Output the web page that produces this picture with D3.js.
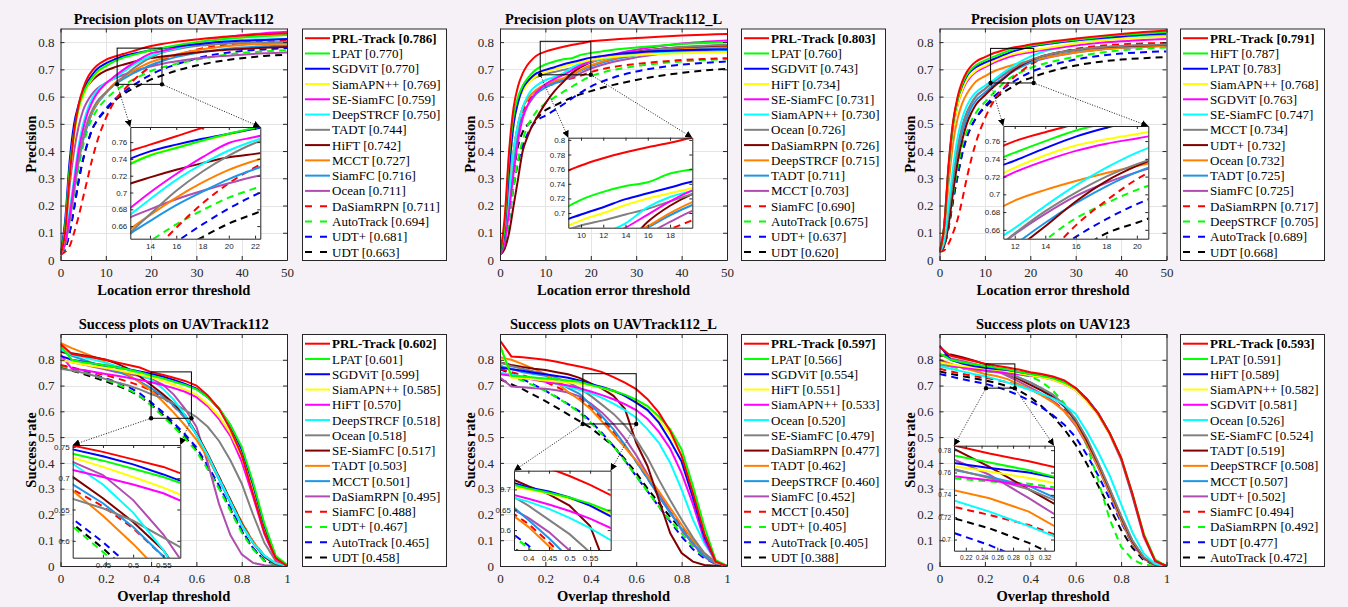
<!DOCTYPE html>
<html><head><meta charset="utf-8">
<script src="https://cdn.jsdelivr.net/npm/d3@7"></script>
<style>
body{margin:0;background:#f5f1f6;}
svg{display:block;}
</style></head>
<body><svg id="c" width="1348" height="607"></svg>
<script>
// ---------- shared ----------
const precX = [0,1,2,3,4,5,6,7,8,10,12,14,16,18,20,22,25,30,35,40,45,50];
const succX = [0,0.05,0.1,0.15,0.2,0.25,0.3,0.35,0.4,0.45,0.5,0.55,0.6,0.65,0.7,0.75,0.8,0.85,0.9,0.95,1];
const precXTicks = [0,10,20,30,40,50];
const precYTicks = [0,0.1,0.2,0.3,0.4,0.5,0.6,0.7,0.8];
const succXTicks = [0,0.2,0.4,0.6,0.8,1];
const succYTicks = [0,0.1,0.2,0.3,0.4,0.5,0.6,0.7,0.8];
const lineColors = ['#ff0000','#00ff00','#0000ff','#ffff00','#ff00ff','#00ffff','#808080','#800000','#ff8000','#1e96e6','#b04db0','#ff0000','#00ff00','#0000ff','#000000'];
const lineDashed = [false,false,false,false,false,false,false,false,false,false,false,true,true,true,true];

// ---------- Panel 1: Precision UAVTrack112 ----------
const p1Names = ['PRL-Track','LPAT','SGDViT','SiamAPN++','SE-SiamFC','DeepSTRCF','TADT','HiFT','MCCT','SiamFC','Ocean','DaSiamRPN','AutoTrack','UDT+','UDT'];
const p1Scores = ['0.786','0.770','0.770','0.769','0.759','0.750','0.744','0.742','0.727','0.716','0.711','0.711','0.694','0.681','0.663'];
const p1Curves = [
 [0.02,0.10,0.30,0.47,0.57,0.63,0.67,0.695,0.713,0.735,0.747,0.757,0.767,0.777,0.786,0.792,0.800,0.810,0.818,0.824,0.829,0.833],
 [0.02,0.12,0.33,0.47,0.56,0.61,0.645,0.67,0.69,0.712,0.730,0.744,0.753,0.762,0.770,0.777,0.787,0.800,0.810,0.817,0.822,0.826],
 [0.02,0.14,0.36,0.50,0.57,0.62,0.655,0.68,0.70,0.722,0.737,0.749,0.757,0.764,0.770,0.776,0.783,0.792,0.800,0.805,0.808,0.811],
 [0.02,0.10,0.30,0.45,0.55,0.60,0.64,0.665,0.685,0.712,0.731,0.745,0.754,0.762,0.769,0.776,0.786,0.800,0.810,0.817,0.822,0.826],
 [0.02,0.06,0.16,0.28,0.40,0.48,0.54,0.58,0.61,0.648,0.675,0.700,0.722,0.742,0.759,0.766,0.778,0.798,0.814,0.825,0.833,0.838],
 [0.02,0.07,0.18,0.30,0.42,0.50,0.555,0.595,0.62,0.650,0.668,0.692,0.715,0.734,0.750,0.762,0.775,0.792,0.802,0.808,0.810,0.812],
 [0.02,0.06,0.15,0.26,0.37,0.45,0.51,0.55,0.58,0.615,0.645,0.674,0.702,0.725,0.744,0.759,0.772,0.786,0.793,0.797,0.799,0.800],
 [0.02,0.12,0.33,0.48,0.56,0.61,0.64,0.66,0.675,0.695,0.708,0.718,0.727,0.735,0.742,0.746,0.752,0.762,0.770,0.775,0.779,0.782],
 [0.02,0.06,0.15,0.26,0.37,0.45,0.505,0.545,0.575,0.615,0.650,0.673,0.694,0.712,0.727,0.738,0.752,0.770,0.782,0.789,0.793,0.795],
 [0.02,0.06,0.14,0.25,0.36,0.44,0.495,0.54,0.57,0.612,0.645,0.666,0.685,0.701,0.716,0.728,0.743,0.760,0.772,0.780,0.785,0.788],
 [0.02,0.10,0.27,0.40,0.49,0.55,0.585,0.61,0.628,0.650,0.667,0.680,0.692,0.702,0.711,0.719,0.728,0.740,0.748,0.754,0.759,0.762],
 [0.02,0.03,0.05,0.10,0.16,0.23,0.30,0.37,0.43,0.52,0.585,0.625,0.658,0.687,0.711,0.730,0.748,0.772,0.787,0.797,0.802,0.805],
 [0.02,0.05,0.13,0.24,0.34,0.42,0.48,0.52,0.55,0.59,0.62,0.642,0.662,0.679,0.694,0.705,0.718,0.735,0.750,0.760,0.766,0.770],
 [0.02,0.04,0.10,0.19,0.29,0.37,0.43,0.48,0.51,0.555,0.59,0.617,0.641,0.662,0.681,0.697,0.715,0.740,0.757,0.767,0.773,0.778],
 [0.02,0.04,0.10,0.19,0.29,0.37,0.43,0.48,0.51,0.55,0.585,0.61,0.63,0.647,0.663,0.675,0.692,0.714,0.730,0.741,0.749,0.754]
];

// ---------- Panel 2: Precision UAVTrack112_L ----------
const p2Names = ['PRL-Track','LPAT','SGDViT','HiFT','SE-SiamFC','SiamAPN++','Ocean','DaSiamRPN','DeepSTRCF','TADT','MCCT','SiamFC','AutoTrack','UDT+','UDT'];
const p2Scores = ['0.803','0.760','0.743','0.734','0.731','0.730','0.726','0.726','0.715','0.711','0.703','0.690','0.675','0.637','0.620'];
const p2Curves = [
 [0.02,0.15,0.40,0.56,0.64,0.685,0.715,0.735,0.750,0.765,0.775,0.783,0.790,0.796,0.803,0.806,0.810,0.815,0.820,0.824,0.827,0.830],
 [0.02,0.12,0.38,0.53,0.60,0.64,0.665,0.685,0.700,0.718,0.729,0.737,0.742,0.754,0.760,0.765,0.772,0.780,0.787,0.793,0.797,0.800],
 [0.02,0.10,0.33,0.50,0.58,0.63,0.655,0.672,0.685,0.698,0.708,0.719,0.727,0.735,0.743,0.748,0.755,0.762,0.767,0.770,0.772,0.773],
 [0.02,0.10,0.33,0.50,0.58,0.62,0.645,0.662,0.675,0.690,0.700,0.711,0.720,0.727,0.734,0.740,0.746,0.752,0.756,0.759,0.761,0.763],
 [0.02,0.06,0.18,0.32,0.44,0.52,0.565,0.595,0.615,0.645,0.665,0.680,0.698,0.716,0.731,0.741,0.755,0.772,0.785,0.795,0.801,0.806],
 [0.02,0.08,0.24,0.40,0.50,0.56,0.60,0.625,0.640,0.660,0.672,0.686,0.708,0.722,0.730,0.737,0.745,0.753,0.758,0.762,0.765,0.767],
 [0.02,0.10,0.32,0.50,0.59,0.63,0.65,0.663,0.672,0.683,0.690,0.698,0.706,0.716,0.726,0.735,0.748,0.763,0.774,0.782,0.787,0.790],
 [0.02,0.04,0.10,0.20,0.30,0.40,0.45,0.49,0.52,0.575,0.62,0.655,0.688,0.710,0.726,0.737,0.750,0.765,0.775,0.781,0.785,0.788],
 [0.02,0.08,0.24,0.40,0.50,0.56,0.59,0.61,0.625,0.645,0.658,0.668,0.682,0.700,0.715,0.726,0.740,0.757,0.768,0.776,0.781,0.784],
 [0.02,0.07,0.22,0.37,0.47,0.53,0.565,0.59,0.61,0.633,0.648,0.662,0.680,0.697,0.711,0.722,0.736,0.752,0.763,0.771,0.776,0.779],
 [0.02,0.08,0.24,0.40,0.50,0.56,0.59,0.61,0.622,0.640,0.652,0.662,0.672,0.688,0.703,0.714,0.728,0.744,0.756,0.765,0.771,0.775],
 [0.02,0.07,0.22,0.38,0.48,0.54,0.575,0.60,0.615,0.635,0.648,0.659,0.668,0.678,0.690,0.699,0.709,0.720,0.728,0.734,0.738,0.741],
 [0.02,0.05,0.15,0.27,0.37,0.44,0.49,0.52,0.545,0.575,0.597,0.618,0.638,0.658,0.675,0.686,0.698,0.712,0.722,0.729,0.734,0.737],
 [0.02,0.05,0.15,0.27,0.36,0.42,0.46,0.49,0.51,0.53,0.55,0.572,0.595,0.617,0.637,0.652,0.670,0.692,0.707,0.717,0.724,0.729],
 [0.02,0.06,0.18,0.32,0.42,0.47,0.495,0.51,0.52,0.55,0.567,0.583,0.598,0.610,0.620,0.630,0.643,0.661,0.676,0.687,0.696,0.702]
];

// ---------- Panel 3: Precision UAV123 ----------
const p3Names = ['PRL-Track','HiFT','LPAT','SiamAPN++','SGDViT','SE-SiamFC','MCCT','UDT+','Ocean','TADT','SiamFC','DaSiamRPN','DeepSTRCF','AutoTrack','UDT'];
const p3Scores = ['0.791','0.787','0.783','0.768','0.763','0.747','0.734','0.732','0.732','0.725','0.725','0.717','0.705','0.689','0.668'];
const p3Curves = [
 [0.03,0.12,0.35,0.51,0.60,0.655,0.69,0.713,0.728,0.745,0.760,0.770,0.779,0.785,0.791,0.796,0.803,0.813,0.822,0.830,0.837,0.843],
 [0.03,0.12,0.34,0.50,0.59,0.645,0.68,0.70,0.715,0.733,0.747,0.760,0.772,0.780,0.787,0.792,0.799,0.809,0.818,0.826,0.832,0.837],
 [0.03,0.12,0.34,0.50,0.59,0.64,0.675,0.695,0.708,0.725,0.738,0.752,0.765,0.775,0.783,0.789,0.796,0.806,0.814,0.821,0.827,0.831],
 [0.03,0.11,0.32,0.48,0.57,0.625,0.66,0.68,0.695,0.713,0.730,0.744,0.755,0.762,0.768,0.774,0.782,0.795,0.805,0.812,0.817,0.820],
 [0.03,0.11,0.32,0.48,0.57,0.62,0.655,0.675,0.69,0.708,0.725,0.738,0.749,0.757,0.763,0.769,0.776,0.788,0.797,0.803,0.808,0.811],
 [0.03,0.07,0.20,0.34,0.45,0.52,0.565,0.595,0.615,0.640,0.662,0.687,0.710,0.730,0.747,0.760,0.775,0.795,0.807,0.815,0.820,0.823],
 [0.03,0.06,0.17,0.30,0.41,0.49,0.54,0.575,0.60,0.628,0.656,0.681,0.702,0.720,0.734,0.745,0.758,0.772,0.781,0.786,0.789,0.791],
 [0.03,0.05,0.13,0.25,0.36,0.44,0.50,0.54,0.57,0.605,0.637,0.664,0.692,0.715,0.732,0.745,0.758,0.772,0.780,0.785,0.788,0.790],
 [0.03,0.10,0.28,0.43,0.52,0.575,0.61,0.635,0.655,0.675,0.693,0.705,0.715,0.724,0.732,0.739,0.748,0.762,0.772,0.779,0.784,0.787],
 [0.03,0.06,0.16,0.28,0.39,0.47,0.52,0.56,0.585,0.615,0.643,0.668,0.690,0.709,0.725,0.737,0.750,0.764,0.773,0.779,0.783,0.786],
 [0.03,0.06,0.17,0.30,0.41,0.49,0.54,0.575,0.60,0.628,0.655,0.678,0.698,0.713,0.725,0.735,0.747,0.762,0.772,0.779,0.783,0.786],
 [0.03,0.035,0.06,0.10,0.15,0.22,0.30,0.37,0.43,0.52,0.585,0.628,0.665,0.693,0.717,0.735,0.755,0.775,0.786,0.792,0.795,0.797],
 [0.03,0.05,0.13,0.24,0.34,0.42,0.47,0.51,0.54,0.58,0.615,0.648,0.673,0.690,0.705,0.716,0.729,0.747,0.760,0.770,0.776,0.780],
 [0.03,0.05,0.12,0.22,0.31,0.39,0.45,0.49,0.52,0.565,0.600,0.628,0.652,0.672,0.689,0.702,0.717,0.736,0.749,0.758,0.763,0.766],
 [0.03,0.05,0.12,0.22,0.31,0.39,0.45,0.49,0.52,0.56,0.59,0.615,0.635,0.656,0.668,0.680,0.695,0.714,0.727,0.736,0.741,0.745]
];

// ---------- Panel 4: Success UAVTrack112 ----------
const p4Names = ['PRL-Track','LPAT','SGDViT','SiamAPN++','HiFT','DeepSTRCF','Ocean','SE-SiamFC','TADT','MCCT','DaSiamRPN','SiamFC','UDT+','AutoTrack','UDT'];
const p4Scores = ['0.602','0.601','0.599','0.585','0.570','0.518','0.518','0.517','0.503','0.501','0.495','0.488','0.467','0.465','0.458'];
const p4Curves = [
 [0.861,0.822,0.815,0.808,0.800,0.790,0.780,0.770,0.752,0.742,0.730,0.718,0.700,0.662,0.610,0.530,0.430,0.280,0.130,0.030,0],
 [0.855,0.800,0.790,0.785,0.778,0.770,0.762,0.752,0.739,0.728,0.715,0.702,0.685,0.655,0.612,0.548,0.462,0.325,0.165,0.040,0.005],
 [0.815,0.800,0.792,0.785,0.778,0.770,0.763,0.755,0.746,0.735,0.722,0.706,0.688,0.655,0.610,0.545,0.452,0.315,0.155,0.035,0.003],
 [0.800,0.790,0.782,0.775,0.768,0.760,0.752,0.743,0.733,0.718,0.702,0.685,0.665,0.628,0.580,0.515,0.425,0.290,0.140,0.030,0.002],
 [0.820,0.765,0.760,0.753,0.745,0.738,0.730,0.722,0.713,0.702,0.690,0.676,0.655,0.620,0.570,0.505,0.405,0.270,0.125,0.025,0.002],
 [0.840,0.820,0.810,0.800,0.788,0.775,0.760,0.743,0.723,0.690,0.645,0.585,0.510,0.430,0.340,0.250,0.160,0.090,0.040,0.010,0.001],
 [0.765,0.758,0.750,0.738,0.725,0.712,0.700,0.685,0.667,0.652,0.632,0.605,0.578,0.540,0.485,0.410,0.320,0.200,0.090,0.020,0],
 [0.830,0.825,0.818,0.810,0.800,0.785,0.765,0.735,0.702,0.668,0.630,0.585,0.515,0.435,0.345,0.255,0.165,0.090,0.035,0.008,0.001],
 [0.865,0.845,0.828,0.810,0.790,0.768,0.742,0.712,0.680,0.640,0.595,0.545,0.490,0.420,0.340,0.255,0.170,0.095,0.040,0.010,0.001],
 [0.835,0.815,0.800,0.785,0.770,0.755,0.738,0.715,0.690,0.660,0.622,0.575,0.510,0.425,0.335,0.245,0.160,0.090,0.038,0.009,0.001],
 [0.800,0.790,0.782,0.772,0.762,0.752,0.745,0.737,0.726,0.705,0.665,0.610,0.540,0.400,0.240,0.120,0.045,0.012,0.003,0.001,0],
 [0.780,0.770,0.760,0.750,0.740,0.728,0.715,0.700,0.682,0.655,0.620,0.575,0.510,0.430,0.345,0.255,0.170,0.095,0.040,0.010,0.001],
 [0.775,0.765,0.752,0.738,0.722,0.705,0.685,0.660,0.623,0.582,0.540,0.495,0.445,0.375,0.300,0.215,0.130,0.065,0.020,0.005,0],
 [0.778,0.768,0.756,0.742,0.728,0.712,0.695,0.670,0.635,0.598,0.555,0.510,0.460,0.390,0.312,0.225,0.140,0.070,0.022,0.005,0],
 [0.770,0.758,0.745,0.731,0.716,0.700,0.682,0.658,0.627,0.588,0.545,0.500,0.450,0.380,0.305,0.220,0.135,0.068,0.020,0.005,0]
];

// ---------- Panel 5: Success UAVTrack112_L ----------
const p5Names = ['PRL-Track','LPAT','SGDViT','HiFT','SiamAPN++','Ocean','SE-SiamFC','DaSiamRPN','TADT','DeepSTRCF','SiamFC','MCCT','UDT+','AutoTrack','UDT'];
const p5Scores = ['0.597','0.566','0.554','0.551','0.533','0.520','0.479','0.477','0.462','0.460','0.452','0.450','0.405','0.405','0.388'];
const p5Curves = [
 [0.874,0.813,0.810,0.805,0.800,0.792,0.783,0.774,0.764,0.752,0.733,0.711,0.686,0.647,0.595,0.523,0.426,0.283,0.127,0.017,0],
 [0.855,0.738,0.735,0.731,0.727,0.724,0.720,0.715,0.702,0.692,0.680,0.665,0.645,0.620,0.580,0.530,0.452,0.310,0.153,0.023,0],
 [0.770,0.763,0.757,0.750,0.744,0.737,0.730,0.720,0.705,0.695,0.680,0.660,0.634,0.605,0.556,0.485,0.405,0.265,0.115,0.018,0],
 [0.860,0.731,0.728,0.724,0.720,0.716,0.712,0.707,0.700,0.690,0.677,0.662,0.642,0.610,0.568,0.510,0.430,0.290,0.120,0.015,0],
 [0.744,0.738,0.730,0.722,0.715,0.708,0.700,0.690,0.677,0.663,0.647,0.628,0.605,0.570,0.520,0.455,0.360,0.240,0.100,0.015,0],
 [0.750,0.742,0.735,0.726,0.717,0.706,0.695,0.683,0.670,0.652,0.630,0.605,0.575,0.530,0.478,0.400,0.296,0.180,0.088,0.020,0],
 [0.790,0.775,0.765,0.755,0.745,0.730,0.712,0.690,0.660,0.625,0.590,0.545,0.490,0.420,0.335,0.255,0.180,0.110,0.050,0.012,0],
 [0.790,0.780,0.772,0.765,0.760,0.752,0.744,0.730,0.708,0.688,0.660,0.610,0.478,0.387,0.257,0.127,0.050,0.017,0.004,0.001,0],
 [0.810,0.800,0.783,0.765,0.744,0.712,0.675,0.645,0.608,0.560,0.510,0.460,0.410,0.350,0.290,0.225,0.160,0.100,0.050,0.015,0],
 [0.776,0.765,0.752,0.745,0.738,0.718,0.690,0.668,0.625,0.580,0.530,0.470,0.405,0.340,0.270,0.205,0.145,0.090,0.040,0.010,0],
 [0.731,0.696,0.693,0.690,0.688,0.682,0.673,0.658,0.630,0.595,0.550,0.495,0.430,0.355,0.283,0.210,0.140,0.085,0.036,0.008,0],
 [0.764,0.752,0.740,0.727,0.714,0.695,0.673,0.650,0.615,0.570,0.520,0.465,0.405,0.340,0.270,0.210,0.153,0.095,0.050,0.012,0],
 [0.783,0.735,0.718,0.700,0.679,0.654,0.627,0.595,0.556,0.510,0.465,0.408,0.348,0.290,0.230,0.175,0.127,0.075,0.036,0.010,0],
 [0.764,0.745,0.725,0.703,0.680,0.655,0.628,0.600,0.562,0.515,0.465,0.410,0.348,0.290,0.230,0.172,0.114,0.065,0.030,0.008,0],
 [0.725,0.705,0.686,0.663,0.640,0.614,0.588,0.562,0.536,0.500,0.465,0.415,0.361,0.300,0.244,0.190,0.140,0.090,0.043,0.012,0]
];

// ---------- Panel 6: Success UAV123 ----------
const p6Names = ['PRL-Track','LPAT','HiFT','SiamAPN++','SGDViT','Ocean','SE-SiamFC','TADT','DeepSTRCF','MCCT','UDT+','SiamFC','DaSiamRPN','UDT','AutoTrack'];
const p6Scores = ['0.593','0.591','0.589','0.582','0.581','0.526','0.524','0.519','0.508','0.507','0.502','0.494','0.492','0.477','0.472'];
const p6Curves = [
 [0.850,0.815,0.805,0.795,0.785,0.777,0.770,0.762,0.752,0.745,0.735,0.720,0.690,0.645,0.590,0.515,0.420,0.280,0.120,0.020,0],
 [0.825,0.800,0.790,0.783,0.776,0.769,0.762,0.753,0.745,0.738,0.728,0.712,0.688,0.645,0.590,0.515,0.420,0.280,0.125,0.025,0],
 [0.855,0.800,0.785,0.776,0.769,0.764,0.760,0.753,0.746,0.740,0.730,0.714,0.690,0.648,0.592,0.515,0.418,0.275,0.118,0.020,0],
 [0.790,0.782,0.776,0.771,0.766,0.761,0.755,0.748,0.740,0.732,0.722,0.706,0.682,0.638,0.585,0.510,0.415,0.272,0.115,0.020,0],
 [0.800,0.778,0.770,0.764,0.757,0.753,0.748,0.743,0.738,0.732,0.722,0.706,0.682,0.640,0.585,0.510,0.412,0.270,0.112,0.018,0],
 [0.775,0.765,0.755,0.745,0.736,0.725,0.712,0.698,0.683,0.668,0.650,0.625,0.590,0.520,0.440,0.350,0.240,0.130,0.048,0.008,0],
 [0.780,0.775,0.771,0.768,0.764,0.755,0.745,0.730,0.712,0.690,0.665,0.625,0.570,0.495,0.400,0.300,0.195,0.100,0.035,0.006,0],
 [0.815,0.820,0.810,0.797,0.783,0.765,0.745,0.725,0.703,0.680,0.655,0.620,0.565,0.485,0.395,0.295,0.190,0.095,0.032,0.005,0],
 [0.800,0.785,0.770,0.757,0.745,0.737,0.725,0.705,0.685,0.662,0.635,0.600,0.550,0.475,0.385,0.285,0.180,0.090,0.030,0.005,0],
 [0.790,0.780,0.773,0.768,0.763,0.756,0.748,0.732,0.712,0.688,0.660,0.618,0.560,0.480,0.385,0.285,0.180,0.090,0.030,0.005,0],
 [0.820,0.805,0.795,0.785,0.773,0.758,0.737,0.715,0.692,0.668,0.640,0.600,0.545,0.470,0.380,0.280,0.175,0.085,0.028,0.004,0],
 [0.765,0.755,0.745,0.737,0.730,0.722,0.713,0.700,0.685,0.665,0.640,0.605,0.555,0.480,0.390,0.290,0.185,0.090,0.030,0.005,0],
 [0.790,0.773,0.765,0.760,0.755,0.752,0.750,0.745,0.735,0.715,0.680,0.630,0.560,0.465,0.330,0.180,0.075,0.025,0.005,0.001,0],
 [0.745,0.735,0.725,0.716,0.707,0.695,0.680,0.662,0.640,0.615,0.585,0.548,0.500,0.430,0.350,0.260,0.170,0.085,0.028,0.004,0],
 [0.755,0.745,0.737,0.728,0.720,0.710,0.697,0.680,0.655,0.620,0.580,0.530,0.470,0.395,0.310,0.225,0.140,0.070,0.022,0.004,0]
];

// ---------- drawing ----------
const svg = d3.select('#c');
const SERIF = 'Liberation Serif, Times New Roman, serif';
const SANS = 'Liberation Sans, Arial, sans-serif';
const AX = '#262626';
const fmt = d => String(+(+d).toFixed(3));
const defs = svg.append('defs');
defs.append('marker').attr('id','arr').attr('viewBox','0 0 10 10').attr('refX',10).attr('refY',5)
  .attr('markerWidth',7).attr('markerHeight',7).attr('markerUnits','userSpaceOnUse').attr('orient','auto')
  .append('path').attr('d','M0,0 L10,5 L0,10 z').attr('fill','#000');

let clipId = 0;
function styleAxis(g, fs, family) {
  g.attr('font-size', fs).attr('font-family', family);
  g.select('.domain').attr('stroke', AX).attr('stroke-width', 1);
  g.selectAll('.tick line').attr('stroke', AX);
  g.selectAll('.tick text').attr('fill', AX);
}
function drawBox(g, x, y, xt, yt, L, R, T, B, tick, fs, family, padX, padY) {
  styleAxis(g.append('g').attr('transform', `translate(0,${B})`)
    .call(d3.axisBottom(x).tickValues(xt).tickSizeInner(-tick).tickSizeOuter(0).tickPadding(padX).tickFormat(fmt)), fs, family);
  styleAxis(g.append('g').attr('transform', `translate(0,${T})`)
    .call(d3.axisTop(x).tickValues(xt).tickSizeInner(-tick).tickSizeOuter(0).tickFormat(() => '')), fs, family);
  styleAxis(g.append('g').attr('transform', `translate(${L},0)`)
    .call(d3.axisLeft(y).tickValues(yt).tickSizeInner(-tick).tickSizeOuter(0).tickPadding(padY).tickFormat(fmt)), fs, family);
  styleAxis(g.append('g').attr('transform', `translate(${R},0)`)
    .call(d3.axisRight(y).tickValues(yt).tickSizeInner(-tick).tickSizeOuter(0).tickFormat(() => '')), fs, family);
}
function drawCurves(g, x, y, xs, curves, L, R, T, B, smooth) {
  const id = 'clip' + (clipId++);
  defs.append('clipPath').attr('id', id).append('rect').attr('x', L).attr('y', T).attr('width', R - L).attr('height', B - T);
  const line = d3.line().x((d, i) => x(xs[i])).y(d => y(d)).curve(smooth ? d3.curveMonotoneX : d3.curveLinear);
  const cg = g.append('g').attr('clip-path', `url(#${id})`);
  // draw lowest-ranked first so the best tracker ends on top
  for (let i = curves.length - 1; i >= 0; i--) {
    cg.append('path').attr('d', line(curves[i])).attr('fill', 'none')
      .attr('stroke', lineColors[i]).attr('stroke-width', 2)
      .attr('stroke-dasharray', lineDashed[i] ? '7,5' : null);
  }
}

function panel(o) {
  const g = svg.append('g');
  const x = d3.scaleLinear().domain(o.xd).range([o.L, o.R]);
  const y = d3.scaleLinear().domain(o.yd).range([o.B, o.T]);
  g.append('rect').attr('x', o.L).attr('y', o.T).attr('width', o.R - o.L).attr('height', o.B - o.T).attr('fill', '#fff');
  const gg = g.append('g').attr('stroke', '#e4e4e4').attr('stroke-width', 1);
  o.xt.forEach(t => gg.append('line').attr('x1', Math.round(x(t)) + 0.5).attr('x2', Math.round(x(t)) + 0.5).attr('y1', o.T).attr('y2', o.B));
  o.yt.forEach(t => gg.append('line').attr('y1', Math.round(y(t)) + 0.5).attr('y2', Math.round(y(t)) + 0.5).attr('x1', o.L).attr('x2', o.R));
  drawCurves(g, x, y, o.xs, o.curves, o.L, o.R, o.T, o.B, o.smooth);
  drawBox(g, x, y, o.xt, o.yt, o.L, o.R, o.T, o.B, 4, 13, SERIF, 8, 6);
  const lab = (sel) => sel.attr('font-family', SERIF).attr('font-weight', 'bold').attr('font-size', 14.5).attr('fill', '#000');
  lab(g.append('text').attr('x', (o.L + o.R) / 2).attr('y', o.T - 5).attr('text-anchor', 'middle')).text(o.title);
  lab(g.append('text').attr('x', (o.L + o.R) / 2).attr('y', o.B + 35).attr('text-anchor', 'middle')).text(o.xlab);
  lab(g.append('text').attr('transform', `translate(${o.L - 25},${(o.T + o.B) / 2}) rotate(-90)`).attr('text-anchor', 'middle')).text(o.ylab);

  const ins = o.inset;
  const rx0 = x(ins.xd[0]), rx1 = x(ins.xd[1]), ry0 = y(ins.yd[0]), ry1 = y(ins.yd[1]);
  g.append('rect').attr('x', rx0).attr('y', ry1).attr('width', rx1 - rx0).attr('height', ry0 - ry1)
    .attr('fill', 'none').attr('stroke', '#000').attr('stroke-width', 1);
  const ix = d3.scaleLinear().domain(ins.xd).range([ins.L, ins.R]);
  const iy = d3.scaleLinear().domain(ins.yd).range([ins.B, ins.T]);
  g.append('rect').attr('x', ins.L).attr('y', ins.T).attr('width', ins.R - ins.L).attr('height', ins.B - ins.T).attr('fill', '#fff');
  drawCurves(g, ix, iy, o.xs, o.curves, ins.L, ins.R, ins.T, ins.B, o.smooth);
  drawBox(g, ix, iy, ins.xt, ins.yt, ins.L, ins.R, ins.T, ins.B, 3, ins.fs || 8, SANS, 5, 3);
  [[rx0, ry0, ins.L, ins.T], [rx1, ry0, ins.R, ins.T]].forEach(([a, b, c, d]) => {
    g.append('line').attr('x1', a).attr('y1', b).attr('x2', c).attr('y2', d)
      .attr('stroke', '#000').attr('stroke-width', 0.9).attr('stroke-dasharray', '1,1.6').attr('marker-end', 'url(#arr)');
    g.append('circle').attr('cx', a).attr('cy', b).attr('r', 2.2).attr('fill', '#000');
  });

  const lg = svg.append('g');
  lg.append('rect').attr('x', o.lgL + 0.5).attr('y', o.T + 0.5).attr('width', 144).attr('height', o.B - o.T)
    .attr('fill', '#fff').attr('stroke', AX).attr('stroke-width', 1);
  o.names.forEach((n, i) => {
    const cy = o.T + 9.7 + i * 15.27;
    lg.append('line').attr('x1', o.lgL + 3).attr('x2', o.lgL + 28).attr('y1', cy).attr('y2', cy)
      .attr('stroke', lineColors[i]).attr('stroke-width', 2).attr('stroke-dasharray', lineDashed[i] ? '7,8' : null);
    lg.append('text').attr('x', o.lgL + 30).attr('y', cy).attr('dy', '0.35em')
      .attr('font-family', SERIF).attr('font-size', 13).attr('fill', '#000')
      .attr('font-weight', i === 0 ? 'bold' : 'normal').text(`${n} [${o.scores[i]}]`);
  });
}

const topT = 28.5, topB = 260, botT = 334, botB = 566;
const cols = [[60.5, 287, 302], [500, 727, 741], [939.5, 1166.5, 1180]];

panel({L: cols[0][0], R: cols[0][1], T: topT, B: topB, lgL: cols[0][2], xd: [0, 50], yd: [0, 0.85], xt: precXTicks, yt: precYTicks,
  xs: precX, curves: p1Curves, names: p1Names, scores: p1Scores, smooth: true,
  title: 'Precision plots on UAVTrack112', xlab: 'Location error threshold', ylab: 'Precision',
  inset: {L: 130.3, R: 260.3, T: 127, B: 238.7, xd: [12.5, 22.4], yd: [0.645, 0.778], xt: [14, 16, 18, 20, 22], yt: [0.66, 0.68, 0.7, 0.72, 0.74, 0.76]}});
panel({L: cols[1][0], R: cols[1][1], T: topT, B: topB, lgL: cols[1][2], xd: [0, 50], yd: [0, 0.85], xt: precXTicks, yt: precYTicks,
  xs: precX, curves: p2Curves, names: p2Names, scores: p2Scores, smooth: true,
  title: 'Precision plots on UAVTrack112_L', xlab: 'Location error threshold', ylab: 'Precision',
  inset: {L: 568.3, R: 692.3, T: 137.7, B: 227.7, xd: [8.86, 20], yd: [0.68, 0.803], xt: [10, 12, 14, 16, 18], yt: [0.7, 0.72, 0.74, 0.76, 0.78, 0.8]}});
panel({L: cols[2][0], R: cols[2][1], T: topT, B: topB, lgL: cols[2][2], xd: [0, 50], yd: [0, 0.85], xt: precXTicks, yt: precYTicks,
  xs: precX, curves: p3Curves, names: p3Names, scores: p3Scores, smooth: true,
  title: 'Precision plots on UAV123', xlab: 'Location error threshold', ylab: 'Precision',
  inset: {L: 1003.3, R: 1148.3, T: 126, B: 238.7, xd: [11.25, 20.75], yd: [0.65, 0.777], xt: [12, 14, 16, 18, 20], yt: [0.66, 0.68, 0.7, 0.72, 0.74, 0.76]}});
panel({L: cols[0][0], R: cols[0][1], T: botT, B: botB, lgL: cols[0][2], xd: [0, 1], yd: [0, 0.9], xt: succXTicks, yt: succYTicks,
  xs: succX, curves: p4Curves, names: p4Names, scores: p4Scores, smooth: false,
  title: 'Success plots on UAVTrack112', xlab: 'Overlap threshold', ylab: 'Success rate',
  inset: {L: 72.7, R: 180.3, T: 445, B: 557.7, xd: [0.4, 0.578], yd: [0.573, 0.753], xt: [0.45, 0.5, 0.55], yt: [0.6, 0.65, 0.7, 0.75]}});
panel({L: cols[1][0], R: cols[1][1], T: botT, B: botB, lgL: cols[1][2], xd: [0, 1], yd: [0, 0.9], xt: succXTicks, yt: succYTicks,
  xs: succX, curves: p5Curves, names: p5Names, scores: p5Scores, smooth: false,
  title: 'Success plots on UAVTrack112_L', xlab: 'Overlap threshold', ylab: 'Success rate',
  inset: {L: 514, R: 610.7, T: 470.7, B: 550, xd: [0.365, 0.6], yd: [0.551, 0.746], xt: [0.4, 0.45, 0.5, 0.55], yt: [0.6, 0.65, 0.7]}});
panel({L: cols[2][0], R: cols[2][1], T: botT, B: botB, lgL: cols[2][2], xd: [0, 1], yd: [0, 0.9], xt: succXTicks, yt: succYTicks,
  xs: succX, curves: p6Curves, names: p6Names, scores: p6Scores, smooth: false,
  title: 'Success plots on UAV123', xlab: 'Overlap threshold', ylab: 'Success rate',
  inset: {L: 954, R: 1054, T: 445.7, B: 550.7, xd: [0.205, 0.332], yd: [0.69, 0.784], fs: 6.5, xt: [0.22, 0.24, 0.26, 0.28, 0.3, 0.32], yt: [0.7, 0.72, 0.74, 0.76, 0.78]}});
</script>
</body></html>
